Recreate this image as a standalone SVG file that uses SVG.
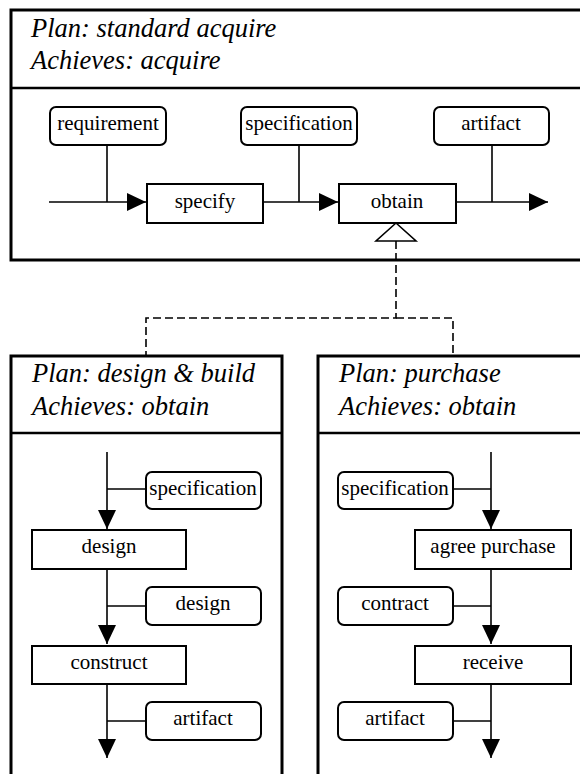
<svg xmlns="http://www.w3.org/2000/svg" width="580" height="774" viewBox="0 0 580 774" font-family="'Liberation Serif', 'Times New Roman', Times, 'DejaVu Serif', serif">
<style>
text{font-family:'Liberation Serif','Times New Roman',Times,'DejaVu Serif',serif}
.panel{fill:#fff;stroke:#000;stroke-width:3}
.div{stroke:#000;stroke-width:2.5}
.title{font-style:italic;font-size:26.5px;fill:#000}
.obj{fill:#fff;stroke:#000;stroke-width:2}
.act{fill:#fff;stroke:#000;stroke-width:2}
.lbl{font-size:21px;fill:#000;text-anchor:middle}
.ln{fill:none;stroke:#000;stroke-width:1.6}
.dash{fill:none;stroke:#000;stroke-width:1.6;stroke-dasharray:8,4}
</style>
<defs>
<marker id="ah" markerUnits="userSpaceOnUse" markerWidth="20" markerHeight="19" refX="19" refY="9" orient="auto" viewBox="0 0 20 19">
<path d="M0,0 L19,9 L0,18 z" fill="#000"/>
</marker>
</defs>
<rect width="580" height="774" fill="#fff"/>

<g id="panel-standard-acquire">
<rect class="panel" x="11" y="10" width="600" height="250"/>
<line class="div" x1="11" y1="88" x2="600" y2="88"/>
<text class="title" x="31" y="37">Plan: standard acquire</text>
<text class="title" x="31" y="69">Achieves: acquire</text>
</g>
<g id="panel-design-build">
<rect class="panel" x="11" y="356" width="271" height="450"/>
<line class="div" x1="11" y1="433" x2="282" y2="433"/>
<text class="title" x="32" y="382">Plan: design &amp; build</text>
<text class="title" x="32" y="415">Achieves: obtain</text>
</g>
<g id="panel-purchase">
<rect class="panel" x="318" y="356" width="300" height="450"/>
<line class="div" x1="318" y1="433" x2="600" y2="433"/>
<text class="title" x="339" y="382">Plan: purchase</text>
<text class="title" x="339" y="415">Achieves: obtain</text>
</g>

<g id="connectors">
<line class="ln" x1="49" y1="202" x2="146" y2="202" marker-end="url(#ah)"/>
<line class="ln" x1="107" y1="145" x2="107" y2="202"/>
<line class="ln" x1="263" y1="202" x2="338" y2="202" marker-end="url(#ah)"/>
<line class="ln" x1="299" y1="145" x2="299" y2="202"/>
<line class="ln" x1="456" y1="202" x2="548" y2="202" marker-end="url(#ah)"/>
<line class="ln" x1="492" y1="145" x2="492" y2="202"/>
<polygon points="396,223 376,241 416,241" fill="#fff" stroke="#000" stroke-width="1.6"/>
<polyline class="dash" points="396,241 396,318 146,318 146,356"/>
<polyline class="dash" points="396,318 453,318 453,356"/>
<line class="ln" x1="107" y1="452" x2="107" y2="529" marker-end="url(#ah)"/>
<line class="ln" x1="107" y1="489" x2="146" y2="489"/>
<line class="ln" x1="107" y1="569" x2="107" y2="644" marker-end="url(#ah)"/>
<line class="ln" x1="107" y1="606" x2="146" y2="606"/>
<line class="ln" x1="107" y1="684" x2="107" y2="758" marker-end="url(#ah)"/>
<line class="ln" x1="107" y1="721" x2="146" y2="721"/>
<line class="ln" x1="491" y1="452" x2="491" y2="529" marker-end="url(#ah)"/>
<line class="ln" x1="453" y1="489" x2="491" y2="489"/>
<line class="ln" x1="491" y1="569" x2="491" y2="644" marker-end="url(#ah)"/>
<line class="ln" x1="453" y1="606" x2="491" y2="606"/>
<line class="ln" x1="491" y1="684" x2="491" y2="758" marker-end="url(#ah)"/>
<line class="ln" x1="453" y1="721" x2="491" y2="721"/>
</g>

<g id="obj-requirement"><rect class="obj" x="50" y="107" width="116" height="38" rx="6"/><text class="lbl" x="108" y="130">requirement</text></g>
<g id="obj-specification-top"><rect class="obj" x="241" y="107" width="116" height="38" rx="6"/><text class="lbl" x="299" y="130">specification</text></g>
<g id="obj-artifact-top"><rect class="obj" x="434" y="107" width="115" height="38" rx="6"/><text class="lbl" x="491" y="130">artifact</text></g>
<g id="act-specify"><rect class="act" x="147" y="184" width="116" height="39"/><text class="lbl" x="205" y="208">specify</text></g>
<g id="act-obtain"><rect class="act" x="339" y="184" width="117" height="39"/><text class="lbl" x="397" y="208">obtain</text></g>

<g id="obj-specification-left"><rect class="obj" x="146" y="472" width="115" height="37" rx="6"/><text class="lbl" x="203" y="495">specification</text></g>
<g id="act-design"><rect class="act" x="32" y="530" width="154" height="39"/><text class="lbl" x="109" y="553">design</text></g>
<g id="obj-design"><rect class="obj" x="146" y="587" width="115" height="38" rx="6"/><text class="lbl" x="203" y="610">design</text></g>
<g id="act-construct"><rect class="act" x="32" y="646" width="154" height="38"/><text class="lbl" x="109" y="669">construct</text></g>
<g id="obj-artifact-left"><rect class="obj" x="146" y="702" width="115" height="38" rx="6"/><text class="lbl" x="203" y="725">artifact</text></g>

<g id="obj-specification-right"><rect class="obj" x="338" y="472" width="115" height="37" rx="6"/><text class="lbl" x="395" y="495">specification</text></g>
<g id="act-agree-purchase"><rect class="act" x="415" y="530" width="156" height="39"/><text class="lbl" x="493" y="553">agree purchase</text></g>
<g id="obj-contract"><rect class="obj" x="338" y="587" width="115" height="38" rx="6"/><text class="lbl" x="395" y="610">contract</text></g>
<g id="act-receive"><rect class="act" x="415" y="646" width="156" height="38"/><text class="lbl" x="493" y="669">receive</text></g>
<g id="obj-artifact-right"><rect class="obj" x="338" y="702" width="115" height="38" rx="6"/><text class="lbl" x="395" y="725">artifact</text></g>
</svg>
